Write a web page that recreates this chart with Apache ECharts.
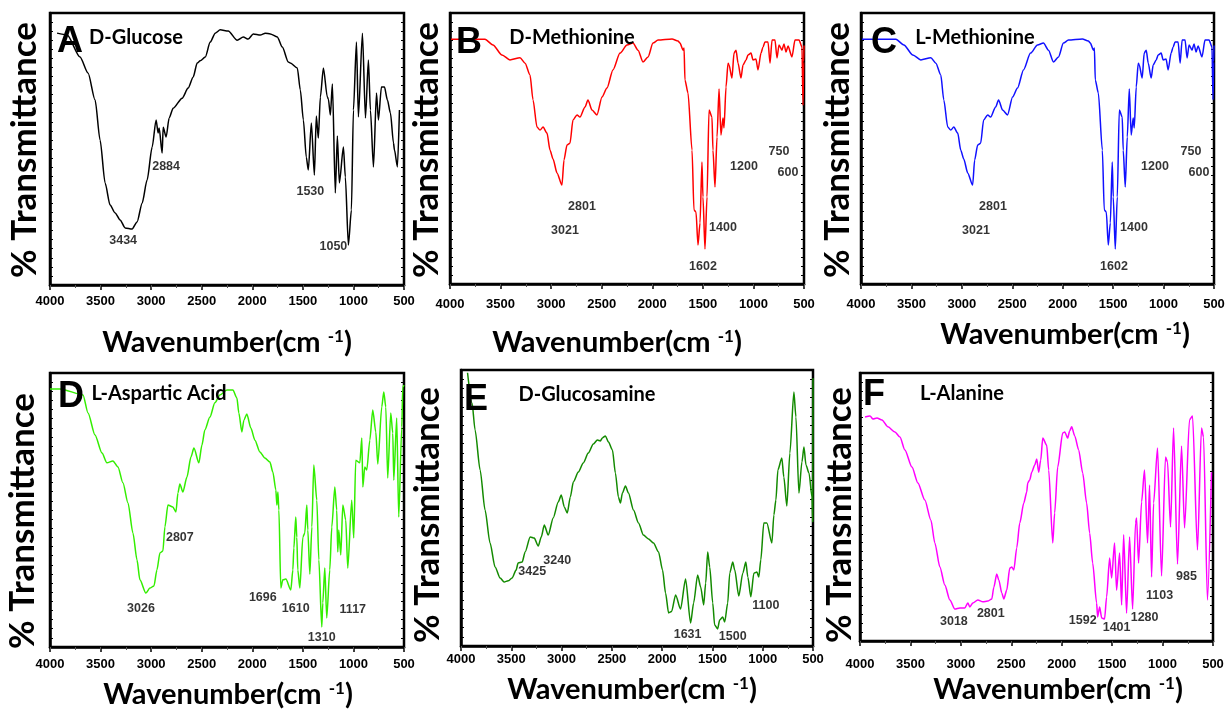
<!DOCTYPE html>
<html><head><meta charset="utf-8">
<script src="https://cdn.jsdelivr.net/npm/echarts@6/dist/echarts.min.js"></script>
<style>html,body{margin:0;padding:0;background:#fff}#c{width:1230px;height:713px}</style>
</head><body><div id="c"></div>
<script>
// ---- tick labels ----
const xTicks = [4000, 3500, 3000, 2500, 2000, 1500, 1000, 500];

// ---- spectra: [wavenumber, %T (0 = frame bottom, 100 = frame top)] ----
const dGlucose = [[3930,92.6],[3832,92],[3703,83.8],[3624,77.9],[3554,68],[3505,53.3],[3455,37.5],[3406,29.4],[3356,26.5],[3307,23.9],[3257,21],[3188,20.6],[3139,23.2],[3089,30.1],[3040,38.6],[2990,50.7],[2951,60.7],[2931,55.9],[2921,57.7],[2891,48.5],[2881,58],[2852,54.4],[2822,61.4],[2782,65],[2693,68.7],[2634,72.4],[2584,76.5],[2545,81.6],[2515,82.4],[2465,83.8],[2416,89.3],[2366,92.6],[2317,93.8],[2238,93.4],[2149,90],[2089,91.2],[2040,90.4],[1990,92.3],[1921,91.9],[1871,92.6],[1822,92.3],[1753,91.2],[1703,87.5],[1644,82],[1624,81.6],[1555,79.8],[1525,71.7],[1495,60.7],[1466,47],[1446,42.3],[1416,59.6],[1386,40.4],[1367,62.1],[1347,54],[1327,69.1],[1297,79.8],[1258,69.1],[1248,68.4],[1228,62.5],[1208,73.9],[1179,33.8],[1159,54.8],[1139,37.5],[1099,50.7],[1080,39.7],[1050,14.7],[1020,27.6],[1000,64.3],[970,89.3],[951,61.8],[911,92.6],[881,61.4],[852,82.7],[832,64.3],[802,43.4],[772,70.6],[753,60.7],[723,72.8],[693,72.8],[664,68],[634,63.2],[604,52.2],[594,49.6],[565,43.4],[545,64.3]];

const dMethionine = [[3990,90.3],[3654,90.3],[3575,88.2],[3486,84.5],[3407,82.7],[3308,83.5],[3258,81.5],[3209,77.1],[3179,67.9],[3140,57.9],[3110,56.8],[3080,57.9],[3041,55.7],[3011,49.4],[2981,46.1],[2942,41],[2893,36.5],[2873,45.8],[2843,51.3],[2814,51.9],[2784,60.5],[2744,62.4],[2715,61.6],[2665,65.3],[2636,67.9],[2596,64.2],[2547,62.4],[2497,69],[2448,72.3],[2389,79],[2319,85.2],[2250,88.2],[2191,88.9],[2141,86.3],[2092,81.9],[2042,83.8],[1993,88.9],[1943,90],[1805,90.4],[1746,89.7],[1726,88.9],[1696,86.3],[1686,87.1],[1677,75.3],[1647,70.5],[1607,49.4],[1588,27.3],[1568,26.6],[1548,14.4],[1528,22.5],[1509,45],[1499,32.1],[1479,12.9],[1459,32.1],[1439,64.2],[1410,61.6],[1400,49.4],[1380,35.8],[1360,54.2],[1340,72],[1321,55],[1301,61.3],[1291,57.6],[1271,72.7],[1251,81.5],[1241,80.8],[1212,76],[1192,85.2],[1172,86.3],[1152,81.5],[1123,76],[1103,80.8],[1073,82.7],[1054,84.5],[1024,85.2],[1004,82.7],[975,83],[955,79],[925,85.2],[905,87.5],[886,89.3],[856,89.3],[836,81.5],[816,90],[787,90],[767,83.4],[747,88.2],[718,86.3],[698,88.6],[678,85.6],[658,87.8],[619,83.8],[589,90],[549,90],[520,87.5],[510,66],[503,82],[500,88]];

const lMethionine = [[3990,90.3],[3654,90.3],[3575,88.2],[3486,84.5],[3407,82.7],[3308,83.5],[3258,81.5],[3209,77.1],[3179,67.9],[3140,57.9],[3110,56.8],[3080,57.9],[3041,55.7],[3011,49.4],[2981,46.1],[2942,41],[2893,36.5],[2873,45.8],[2843,51.3],[2814,51.9],[2784,60.5],[2744,62.4],[2715,61.6],[2665,65.3],[2636,67.9],[2596,64.2],[2547,62.4],[2497,69],[2448,72.3],[2389,79],[2319,85.2],[2250,88.2],[2191,88.9],[2141,86.3],[2092,81.9],[2042,83.8],[1993,88.9],[1943,90],[1805,90.4],[1746,89.7],[1726,88.9],[1696,86.3],[1686,87.1],[1677,75.3],[1647,70.5],[1607,49.4],[1588,27.3],[1568,26.6],[1548,14.4],[1528,22.5],[1509,45],[1499,32.1],[1479,12.9],[1459,32.1],[1439,64.2],[1410,61.6],[1400,49.4],[1380,35.8],[1360,54.2],[1340,72],[1321,55],[1301,61.3],[1291,57.6],[1271,72.7],[1251,81.5],[1241,80.8],[1212,76],[1192,85.2],[1172,86.3],[1152,81.5],[1123,76],[1103,80.8],[1073,82.7],[1054,84.5],[1024,85.2],[1004,82.7],[975,83],[955,79],[925,85.2],[905,87.5],[886,89.3],[856,89.3],[836,81.5],[816,90],[787,90],[767,83.4],[747,88.2],[718,86.3],[698,88.6],[678,85.6],[658,87.8],[619,83.8],[589,90],[549,90],[520,87.5],[510,68],[503,82],[500,88]];

const lAsparticAcid = [[4000,94.2],[3900,94.2],[3674,92],[3624,85.4],[3555,77.4],[3486,70.8],[3437,67.2],[3378,67.9],[3328,65.7],[3279,59.9],[3229,52.6],[3180,41.6],[3140,31.8],[3111,24.5],[3052,19.7],[3012,21.5],[2972,22.3],[2943,28.1],[2913,34.3],[2884,35],[2864,43.8],[2834,51.8],[2785,51.1],[2755,49.3],[2735,56.2],[2716,59.5],[2686,56.6],[2646,62],[2607,69.3],[2577,72.6],[2528,67.2],[2498,73.7],[2469,79.2],[2419,83.9],[2370,89.1],[2320,92],[2251,93.8],[2192,93.8],[2152,90.9],[2133,85.4],[2103,78.5],[2083,82.8],[2054,85],[2014,79.9],[1974,75.5],[1925,71.2],[1876,69],[1826,67.5],[1797,63.9],[1767,57.3],[1757,51.8],[1747,56.6],[1737,50],[1718,21.5],[1698,24.5],[1668,24.8],[1619,20.8],[1599,28.1],[1589,36.1],[1570,47.4],[1560,40.1],[1550,28.1],[1530,21.5],[1500,40.1],[1481,41.6],[1461,51.8],[1451,42.7],[1431,26.6],[1411,43.8],[1392,66.4],[1362,53.6],[1342,31.8],[1313,7.3],[1303,16.1],[1283,28.8],[1264,10.6],[1234,28.1],[1214,43.8],[1184,58.4],[1165,50],[1155,34.7],[1145,42.7],[1125,33.6],[1105,51.8],[1076,46.4],[1056,28.8],[1017,53.6],[997,39.8],[977,68.2],[937,67.2],[917,76.3],[907,58.4],[888,65.7],[868,64.6],[838,75.5],[809,86.5],[779,78.5],[759,66.8],[720,87.6],[700,93.1],[680,87.6],[661,61.7],[631,85.4],[611,78.1],[601,60.9],[572,83.6],[552,47.4],[522,80.3],[512,94.9],[500,95.6]];

const dGlucosamine = [[3935,99],[3890,88],[3860,78.3],[3810,63.8],[3761,49.3],[3711,37.3],[3661,28.6],[3611,24.6],[3571,23.2],[3531,23.6],[3492,24.6],[3452,27.5],[3432,30.1],[3392,30.4],[3362,34.1],[3312,39.5],[3272,39.1],[3232,36.2],[3202,39.5],[3172,43.8],[3133,40.2],[3083,46.4],[3033,52.2],[3003,54.7],[2973,50.4],[2943,48.2],[2913,54],[2883,59.4],[2833,63],[2784,66.3],[2734,69.9],[2684,73.2],[2644,74.6],[2614,74.3],[2594,75.4],[2564,76.1],[2534,73.9],[2494,71],[2465,62.7],[2435,54],[2415,51.8],[2395,55.4],[2365,58],[2335,55.4],[2285,49.3],[2235,44.6],[2186,40.2],[2136,38.8],[2086,37.3],[2036,34.1],[1996,27.5],[1966,19.2],[1936,12],[1906,12.5],[1866,18.5],[1817,13.4],[1767,24.3],[1717,8.3],[1687,15.6],[1647,25.7],[1617,21.4],[1587,14.9],[1567,22.8],[1547,34.1],[1527,28.6],[1497,15.6],[1478,7.6],[1448,6.2],[1428,9.4],[1398,10.5],[1378,8.7],[1348,15.6],[1328,26.4],[1298,30.4],[1278,27.5],[1238,18.1],[1198,26.4],[1168,30.4],[1148,25],[1118,17.8],[1088,26.4],[1058,26.8],[1039,25],[1019,31.2],[989,44.6],[959,44.6],[909,37.3],[889,47.5],[869,52.9],[849,63.8],[810,68.1],[790,61.2],[760,50.7],[730,69.9],[690,92],[670,83],[640,55.4],[610,66.7],[590,72.1],[570,65.6],[540,62.7],[510,54],[503,45],[500,97]];

const lAlanine = [[3950,83.6],[3901,84],[3871,82.8],[3832,83.2],[3782,82.5],[3723,79.9],[3654,78],[3604,76.1],[3555,71.3],[3485,64.9],[3426,59],[3357,52.6],[3297,45.1],[3258,36.6],[3208,27.6],[3159,20.9],[3109,15.3],[3060,11.9],[3010,12.3],[2961,12.3],[2931,14.2],[2911,12.7],[2881,14.2],[2832,15.3],[2782,14.6],[2733,14.9],[2693,15.7],[2673,20.1],[2644,25],[2624,22.8],[2594,17.9],[2574,15.7],[2545,19],[2515,27.2],[2495,27.6],[2475,26.5],[2446,34.7],[2416,44],[2376,51.5],[2347,55.6],[2337,59],[2317,60.1],[2297,63],[2267,65.7],[2248,67.9],[2228,63],[2208,67.5],[2188,75.7],[2149,73.1],[2129,63.8],[2089,36.6],[2070,47.8],[2040,64.9],[1990,77.6],[1970,78],[1941,75.7],[1921,78.4],[1901,79.9],[1871,76.5],[1832,71.3],[1792,62.7],[1753,51.5],[1723,40.3],[1693,29.1],[1654,14.2],[1644,9],[1624,12.7],[1604,8.6],[1575,8.2],[1555,16.4],[1525,31],[1505,23.5],[1476,36.6],[1456,19],[1426,32.8],[1406,13.4],[1386,39.6],[1357,10.4],[1327,38.8],[1297,11.9],[1268,44],[1258,45.9],[1238,29.1],[1208,51.9],[1179,63.8],[1149,36.6],[1129,58.2],[1109,23.9],[1089,51.5],[1050,72],[1010,24.3],[971,68.7],[951,66.8],[921,42.5],[891,79.5],[852,28.7],[812,72.8],[782,42.2],[733,82.5],[703,84],[654,34],[614,79.5],[594,76.1],[555,15.3],[515,63]];

// ---- peak annotations: [text, wavenumber position, %T position] ----
const annA = [["3434",3277,16.5],["2884",2852,43.4],["1530",1426,34.2],["1050",1198,14]];
const annB = [["2801",2695,28.4],["3021",2863,19.6],["1602",1499,6.3],["1400",1301,21],["1200",1093,43.5],["750",747,48.7],["600",658,41.3]];
const annC = [["2801",2691,28.4],["3021",2860,19.6],["1602",1492,6.3],["1400",1293,21],["1200",1085,43.5],["750",728,48.7],["600",649,41.3]];
const annD = [["3026",3101,14.2],["2807",2716,40.1],["1696",1896,17.9],["1610",1570,13.9],["1310",1313,3.6],["1117",1006,13.5]];
const annE = [["3425",3292,26.8],["3240",3043,30.8],["1631",1747,4],["1500",1298,3.6],["1100",969,14.5]];
const annF = [["3018",3069,7.1],["2801",2703,10.1],["1592",1792,7.8],["1401",1456,4.9],["1280",1178,8.6],["1103",1030,16.8],["985",763,23.9]];

const panelLetters = ["A","B","C","D","E","F"];
const panelNames = ["D-Glucose","D-Methionine","L-Methionine","L-Aspartic Acid","D-Glucosamine","L-Alanine"];

// ---- layout / style ----
const spectra = [dGlucose, dMethionine, lMethionine, lAsparticAcid, dGlucosamine, lAlanine];
const anns = [annA, annB, annC, annD, annE, annF];
const colors = ['#000000','#ff0000','#1010ff','#33ee00','#138a00','#ff00ff'];
const grids = [
  {left:50, top:13, width:354, height:272},
  {left:450, top:13, width:354, height:271},
  {left:861, top:13, width:353, height:271},
  {left:50, top:373, width:354, height:274},
  {left:461, top:370, width:352, height:276},
  {left:860, top:373, width:353, height:268}
];
const labelMargins = [10, 14, 14, 11, 7, 17];
const yTitlePos = [[25,150],[427,150],[838,150],[23,521],[428,515],[840,515]];
const xTitlePos = [[227,343],[617,343],[1065,335],[228,695],[632,690],[1058,690]];
const letterPos = [[70,42],[469,43],[884,43],[71,397],[476,400],[874,395]];
const namePos = [[136,38],[572,38],[975,38],[159,394],[587,395],[962,394]];

const TITLE_FONT = 'Lato, "Open Sans", sans-serif';
const NUM_FONT = '"Liberation Sans", Arial, sans-serif';

const option = {
  animation: false,
  backgroundColor: '#fff',
  grid: [], xAxis: [], yAxis: [], series: [], graphic: []
};

grids.forEach((g, i) => {
  option.grid.push(Object.assign({show:true, borderColor:'#000', borderWidth:2.5, containLabel:false}, g));
  option.xAxis.push({
    type:'value', gridIndex:i, position:'bottom', inverse:true, min:500, max:4000, interval:500,
    axisLine:{show:true, onZero:false, lineStyle:{color:'#000', width:2.5}},
    axisTick:{show:true, inside:false, length:5, lineStyle:{color:'#000', width:1.5}},
    axisLabel:{show:true, margin:labelMargins[i], color:'#000', fontWeight:'bold', fontSize:13, fontFamily:NUM_FONT,
      formatter: v => xTicks.includes(v) ? String(v) : ''},
    splitLine:{show:false}
  });
  option.xAxis.push({
    type:'value', gridIndex:i, position:'top', inverse:true, min:500, max:4000, interval:250,
    axisLine:{show:false}, axisTick:{show:true, inside:true, length:3, lineStyle:{color:'#555', width:1}},
    axisLabel:{show:false}, splitLine:{show:false}
  });
  option.yAxis.push({
    type:'value', gridIndex:i, position:'left', min:0, max:100, interval:10,
    axisLine:{show:true, onZero:false, lineStyle:{color:'#000', width:2.5}},
    axisTick:{show:true, inside:true, length:3, lineStyle:{color:'#000', width:1}},
    minorTick:{show:true, splitNumber:3, length:3, lineStyle:{color:'#000', width:1}},
    axisLabel:{show:false}, splitLine:{show:false}
  });
  option.yAxis.push({
    type:'value', gridIndex:i, position:'right', min:0, max:100, interval:10,
    axisLine:{show:false},
    axisTick:{show:true, inside:true, length:3, lineStyle:{color:'#000', width:1}},
    minorTick:{show:true, splitNumber:3, length:3, lineStyle:{color:'#000', width:1}},
    axisLabel:{show:false}, splitLine:{show:false}
  });
  option.series.push({
    type:'line', xAxisIndex:2*i, yAxisIndex:2*i, data:spectra[i], showSymbol:false, symbol:'none',
    smooth:0.25, smoothMonotone:'x', clip:true, z:2,
    lineStyle:{color:colors[i], width:1.5}
  });
  option.series.push({
    type:'scatter', xAxisIndex:2*i, yAxisIndex:2*i, symbolSize:0.1, z:5,
    itemStyle:{color:'rgba(0,0,0,0)'},
    data: anns[i].map(a => ({name:a[0], value:[a[1], a[2]]})),
    label:{show:true, position:'inside', formatter:'{b}', color:'#000', fontWeight:'bold', fontSize:12.5, fontFamily:NUM_FONT}
  });
  option.graphic.push({type:'text', x:yTitlePos[i][0], y:yTitlePos[i][1], rotation:Math.PI/2, z:10,
    style:{text:'% Transmittance', fill:'#000', font:'bold 35px ' + TITLE_FONT, textAlign:'center', textVerticalAlign:'middle'}});
  option.graphic.push({type:'text', x:xTitlePos[i][0], y:xTitlePos[i][1], z:10,
    style:{text:'{a|Wavenumber(cm }{s|-1}{a|)}', textAlign:'center', textVerticalAlign:'middle',
      rich:{a:{fontSize:29, fontWeight:'bold', fontFamily:TITLE_FONT, fill:'#000', color:'#000'},
            s:{fontSize:17, fontWeight:'bold', fontFamily:TITLE_FONT, fill:'#000', color:'#000', verticalAlign:'top', padding:[0,0,12,0]}}}});
  option.graphic.push({type:'text', x:letterPos[i][0], y:letterPos[i][1], z:10,
    style:{text:panelLetters[i], fill:'#000', font:'bold 36px ' + NUM_FONT, textAlign:'center', textVerticalAlign:'middle'}});
  option.graphic.push({type:'text', x:namePos[i][0], y:namePos[i][1], z:10,
    style:{text:panelNames[i], fill:'#000', font:'bold 20px ' + TITLE_FONT, textAlign:'center', textVerticalAlign:'middle'}});
});

const chart = echarts.init(document.getElementById('c'), null, {renderer:'canvas'});
chart.setOption(option);
</script></body></html>
